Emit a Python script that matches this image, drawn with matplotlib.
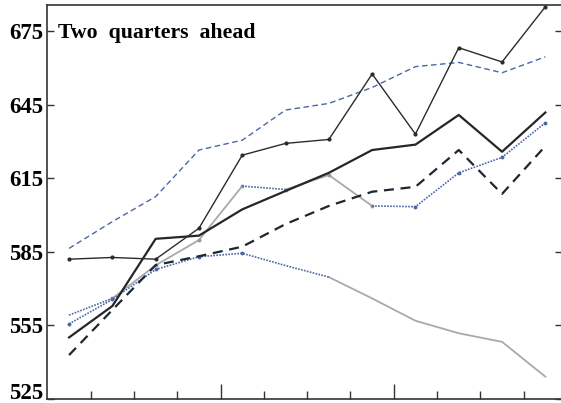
import numpy as np
import matplotlib
matplotlib.use("Agg")
import matplotlib.pyplot as plt

# Quarterly index (12 quarters)
quarters = np.arange(12)

# Realised series (thin black with markers)
actual = [582.0, 582.7, 582.0, 594.6, 624.4, 629.2, 630.8, 657.5, 633.0, 668.2, 662.4, 684.9]
# Point forecast, model A (thick black)
model_a = [550.1, 562.9, 590.3, 591.6, 602.3, 609.8, 617.2, 626.5, 628.7, 640.8, 625.8, 641.8]
# Point forecast, model B (black dashed)
model_b = [542.9, 561.3, 579.6, 583.2, 587.1, 596.3, 603.7, 609.5, 611.5, 626.5, 608.6, 628.1]
# Upper band (blue dashed)
upper_band = [586.4, 597.3, 607.5, 626.5, 630.5, 642.8, 645.5, 652.0, 660.5, 662.2, 658.0, 664.5]
# Forecast path 1 (grey solid / blue dotted pieces)
path_one = [559.2, 566.0, 579.5, 589.8, 611.8, 610.4, 616.3, 603.7, 603.4, 617.2, 623.5, 637.6]
path_one_grey = [(1, 4), (5, 7)]
path_one_blue = [(0, 1), (4, 5), (7, 11)]
# Forecast path 2 (blue dotted / grey solid pieces)
path_two = [555.6, 565.6, 577.8, 583.0, 584.4, 579.4, 574.7, 566.0, 556.9, 551.8, 548.3, 534.1]
path_two_blue = [(0, 6)]
path_two_grey = [(6, 11)]

yticks = [525, 555, 585, 615, 645, 675]
title = "Two  quarters  ahead"

BLUE = "#4b67a5"
GREY = "#a9a9a9"

W, H = 561, 403
fig = plt.figure(figsize=(W / 100, H / 100), dpi=100)
left_px, right_px, top_px, bottom_px = 47.4, 561.6, 5.0, 399.0
ax = fig.add_axes([left_px / W, (H - bottom_px) / H,
                   (right_px - left_px) / W, (bottom_px - top_px) / H])

x = np.asarray(quarters, dtype=float)


def draw_pieces(values, pieces, **kw):
    v = np.asarray(values, dtype=float)
    for a, b in pieces:
        ax.plot(x[a:b + 1], v[a:b + 1], **kw)


# grey pieces
draw_pieces(path_one, path_one_grey, color=GREY, lw=1.3, zorder=2)
draw_pieces(path_two, path_two_grey, color=GREY, lw=1.3, zorder=2)
ax.plot(x[1:8], np.asarray(path_one)[1:8], ls="none", marker="o", ms=1.8,
        color="#999999", zorder=2)

# blue dotted pieces
draw_pieces(path_one, path_one_blue, color=BLUE, lw=1.2, ls=(0, (1, 0.8)), zorder=3)
draw_pieces(path_two, path_two_blue, color=BLUE, lw=1.2, ls=(0, (1, 0.8)), zorder=3)
ax.plot(x[8:], np.asarray(path_one)[8:], ls="none", marker="o", ms=1.8, color=BLUE, zorder=3)
ax.plot(x[:5], np.asarray(path_two)[:5], ls="none", marker="o", ms=1.8, color=BLUE, zorder=3)

# upper band
ax.plot(x, upper_band, color=BLUE, lw=1.0, ls=(0, (4, 2.5)), zorder=3)

# model B dashed
ax.plot(x, model_b, color="#1d2731", lw=1.6, ls=(0, (4.5, 3)), zorder=4)
# model A thick
ax.plot(x, model_a, color="#262626", lw=1.6, zorder=5)
# actual
ax.plot(x, actual, color="#2b2b2b", lw=1.0, marker="o", ms=2.0, zorder=6)

ax.set_xlim(-0.5, -0.5 + (right_px - left_px) / 43.3)
ax.set_ylim(525, 525 + (bottom_px - top_px) / 2.453)

ax.set_yticks(yticks)
ax.set_yticklabels([str(t) for t in yticks])
ax.set_xticks([3.5, 7.5])
ax.set_xticks([0.5, 1.5, 2.5, 4.5, 5.5, 6.5, 8.5, 9.5, 10.5], minor=True)
ax.set_xticklabels([])

ax.tick_params(axis="y", which="both", direction="in", length=5, width=1.0,
               left=True, right=True, labelleft=True, labelright=False, pad=3,
               color="#333333")
ax.tick_params(axis="x", which="major", direction="in", length=11, width=1.0,
               bottom=True, top=False, color="#333333")
ax.tick_params(axis="x", which="minor", direction="in", length=6, width=1.0,
               bottom=True, top=False, color="#333333")

for lab in ax.get_yticklabels():
    lab.set_fontfamily("Liberation Serif")
    lab.set_fontweight("bold")
    lab.set_fontsize(16.5)
# lowest label sits on the bottom edge, raised so it stays inside the canvas
ax.get_yticklabels()[0].set_verticalalignment("baseline")

for side in ["left", "bottom", "top", "right"]:
    ax.spines[side].set_linewidth(1.2)
    ax.spines[side].set_color("#333333")

ax.text((58 - left_px) / (right_px - left_px), (bottom_px - 38) / (bottom_px - top_px),
        title, transform=ax.transAxes, ha="left", va="baseline",
        fontfamily="Liberation Serif", fontweight="bold", fontsize=15.7)

fig.savefig("out.png", dpi=100)
